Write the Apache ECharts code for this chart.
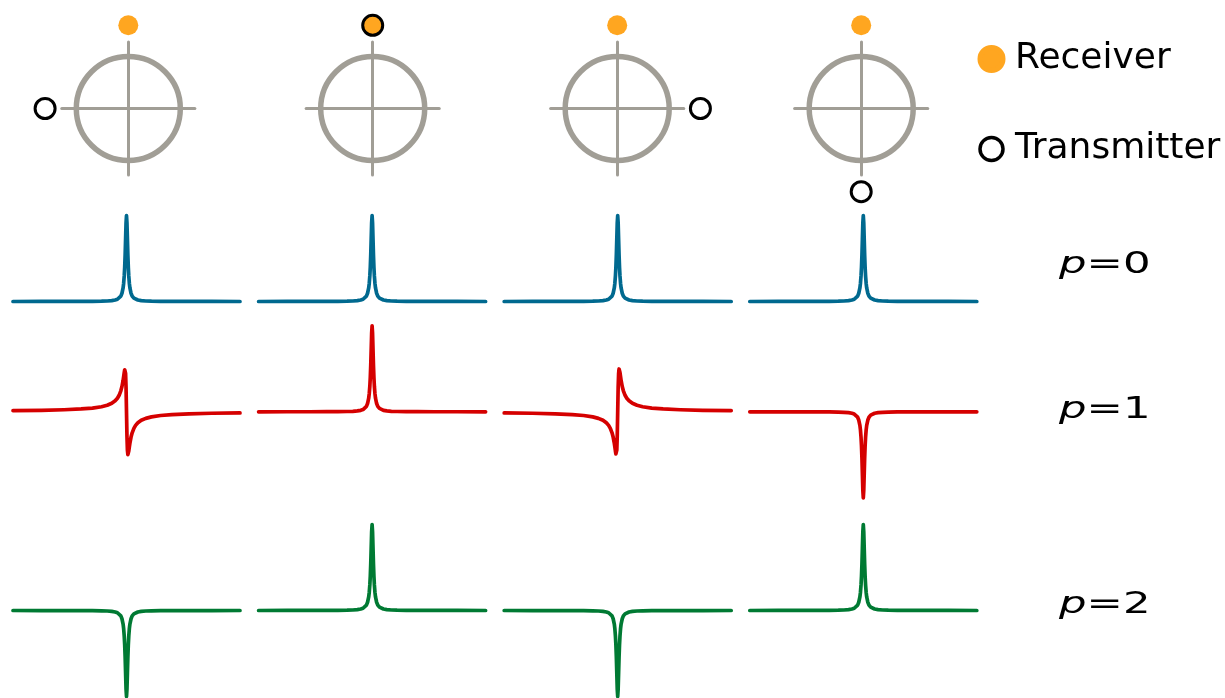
<!DOCTYPE html>
<html>
<head>
<meta charset="utf-8">
<script src="https://cdn.jsdelivr.net/npm/echarts@6/dist/echarts.min.js"></script>
<style>
  html, body { margin: 0; padding: 0; background: #ffffff; }
  #chart { width: 1225px; height: 698px; }
</style>
</head>
<body>
<div id="chart"></div>
<script>
// Detuning across each panel (-1 … 1), sampled densely around resonance
const detuning = [-1, -0.75, -0.55, -0.4, -0.3, -0.22, -0.17, -0.13, -0.1, -0.08, -0.065, -0.05, -0.04, -0.03, -0.025, -0.02, -0.016, -0.012, -0.008, -0.004,
  0, 0.004, 0.008, 0.012, 0.016, 0.02, 0.025, 0.03, 0.04, 0.05, 0.065, 0.08, 0.1, 0.13, 0.17, 0.22, 0.3, 0.4, 0.55, 0.75, 1];

// Absorptive (peak) line shape, normalised to 1 at resonance
const absorption = [0.0002, 0.0003, 0.0006, 0.0011, 0.0019, 0.0035, 0.006, 0.010, 0.017, 0.026, 0.039, 0.063, 0.096, 0.158, 0.213, 0.297, 0.398, 0.540, 0.725, 0.914,
  1, 0.914, 0.725, 0.540, 0.398, 0.297, 0.213, 0.158, 0.096, 0.063, 0.039, 0.026, 0.017, 0.010, 0.006, 0.0035, 0.0019, 0.0011, 0.0006, 0.0003, 0.0002];

// Dispersive line shape (same scale)
const dispersion = [-0.013, -0.017, -0.024, -0.033, -0.043, -0.059, -0.076, -0.099, -0.128, -0.158, -0.192, -0.244, -0.294, -0.365, -0.409, -0.457, -0.489, -0.498, -0.446, -0.281,
  0, 0.281, 0.446, 0.498, 0.489, 0.457, 0.409, 0.365, 0.294, 0.244, 0.192, 0.158, 0.128, 0.099, 0.076, 0.059, 0.043, 0.033, 0.024, 0.017, 0.013];

// Order p of each row and its colour
const orders = ['0', '1', '2'];
const rowColors = ['#00698f', '#d50000', '#007a33'];

// Line shape and sign in each column, per order
const p0Shape = [['abs', 1], ['abs', 1], ['abs', 1], ['abs', 1]];
const p1Shape = [['disp', -1], ['abs', 1], ['disp', 1], ['abs', -1]];
const p2Shape = [['abs', -1], ['abs', 1], ['abs', -1], ['abs', 1]];

// Geometry sketches, in units of the ring radius
const receiverPos = [[0, 1.6], [0, 1.6], [0, 1.6], [0, 1.6]];
const transmitterPos = [[-1.6, 0], [0, 1.6], [1.6, 0], [0, -1.6]];
const ringRadius = 1;
const crossHalf = 1.28;

// ---- layout & style ----
const GRAY = '#a19e96';
const ORANGE = '#ffa620';
const FONT = 'DejaVu Sans';
const unitPx = 52;                 // pixels per ring radius
const sketchX = [128.3, 372.7, 617.2, 861.2];
const sketchY = 108.5;
const panelX = [126.5, 372.1, 617.7, 863.3];
const panelHalf = 113.5;
const rowBase = [301.5, 411.8, 610.5];
const ampPx = 86;

const profiles = { abs: absorption, disp: dispersion };
const rowShapes = [p0Shape, p1Shape, p2Shape];

const grid = [], xAxis = [], yAxis = [], series = [];
const hiddenAxis = (i, lo, hi) => ({
  gridIndex: i, type: 'value', min: lo, max: hi, show: false
});

// Sketch grids: the two axes form the crosshair
sketchX.forEach((cx, c) => {
  const gi = grid.length;
  const half = crossHalf * unitPx;
  grid.push({ left: cx - half, top: sketchY - half, width: 2 * half, height: 2 * half });
  const ax = {
    gridIndex: gi, type: 'value', min: -crossHalf, max: crossHalf,
    axisLine: { show: true, onZero: true, lineStyle: { color: GRAY, width: 3 } },
    axisTick: { show: false }, axisLabel: { show: false }, splitLine: { show: false }
  };
  xAxis.push(Object.assign({}, ax));
  yAxis.push(Object.assign({}, ax));
  series.push({
    type: 'scatter', name: 'ring', xAxisIndex: gi, yAxisIndex: gi, silent: true, z: 2,
    data: [[0, 0]], symbol: 'circle', symbolSize: 2 * ringRadius * unitPx,
    itemStyle: { color: 'rgba(0,0,0,0)', borderColor: GRAY, borderWidth: 5.5, opacity: 1 }
  });
  series.push({
    type: 'scatter', name: 'Receiver', xAxisIndex: gi, yAxisIndex: gi, silent: true, clip: false, z: 3,
    data: [receiverPos[c]], symbol: 'circle', symbolSize: 20,
    itemStyle: { color: ORANGE, opacity: 1 }
  });
  series.push({
    type: 'scatter', name: 'Transmitter', xAxisIndex: gi, yAxisIndex: gi, silent: true, clip: false, z: 4,
    data: [transmitterPos[c]], symbol: 'circle', symbolSize: 20,
    itemStyle: { color: 'rgba(255,255,255,0)', borderColor: '#000000', borderWidth: 3, opacity: 1 }
  });
});

// Spectra panels
rowShapes.forEach((shapes, r) => {
  shapes.forEach(([kind, sign], c) => {
    const gi = grid.length;
    grid.push({ left: panelX[c] - panelHalf, top: rowBase[r] - ampPx, width: 2 * panelHalf, height: 2 * ampPx });
    xAxis.push(hiddenAxis(gi, -1, 1));
    yAxis.push(hiddenAxis(gi, -1, 1));
    const prof = profiles[kind];
    series.push({
      type: 'line', name: 'p' + orders[r] + '-' + c, xAxisIndex: gi, yAxisIndex: gi,
      data: detuning.map((x, k) => [x, sign * prof[k]]),
      showSymbol: false, symbol: 'none', smooth: false, clip: false, silent: true,
      lineStyle: { color: rowColors[r], width: 3.7, cap: 'round', join: 'round' }
    });
  });
});

// Order labels
const labelY = [265, 410, 605];
const graphic = orders.map((p, r) => ({
  type: 'text', x: 1059, y: labelY[r], scaleX: 1.4, silent: true,
  style: {
    text: '{i|p}{n|=' + p + '}',
    verticalAlign: 'middle',
    rich: {
      i: { fontFamily: FONT, fontStyle: 'italic', fontSize: 31, fill: '#000' },
      n: { fontFamily: FONT, fontSize: 31, fill: '#000' }
    }
  }
}));

const chart = echarts.init(document.getElementById('chart'), null, { renderer: 'canvas' });
chart.setOption({
  animation: false,
  backgroundColor: '#ffffff',
  grid, xAxis, yAxis, series, graphic,
  legend: {
    orient: 'vertical', align: 'left', left: 977.5, top: 41, padding: 0,
    itemWidth: 37, itemHeight: 23, itemGap: 54, icon: 'circle',
    selectedMode: false,
    textStyle: { fontFamily: FONT, fontSize: 36, color: '#000' },
    data: [
      { name: 'Receiver', itemStyle: { color: ORANGE, borderColor: ORANGE, borderWidth: 5, opacity: 1 } },
      { name: 'Transmitter', itemStyle: { color: '#ffffff', borderColor: '#000000', borderWidth: 3.5, opacity: 1 } }
    ]
  }
});
</script>
</body>
</html>
